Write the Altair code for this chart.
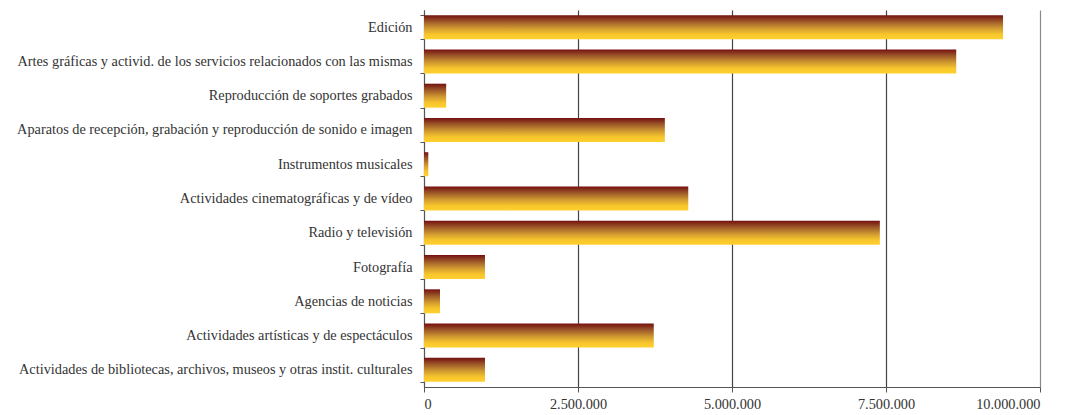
import altair as alt
import pandas as pd

categories = [
    "Edición",
    "Artes gráficas y activid. de los servicios relacionados con las mismas",
    "Reproducción de soportes grabados",
    "Aparatos de recepción, grabación y reproducción de sonido e imagen",
    "Instrumentos musicales",
    "Actividades cinematográficas y de vídeo",
    "Radio y televisión",
    "Fotografía",
    "Agencias de noticias",
    "Actividades artísticas y de espectáculos",
    "Actividades de bibliotecas, archivos, museos y otras instit. culturales",
]
values = [9400000, 8640000, 360000, 3910000, 70000, 4290000, 7400000, 990000, 260000, 3730000, 990000]
tick_values = [0, 2500000, 5000000, 7500000, 10000000]

df = pd.DataFrame({"cat": categories, "val": values})

grad = alt.LinearGradient(
    gradient="linear",
    x1=0, x2=0, y1=0, y2=1,
    stops=[
        alt.GradientStop(color="#741010", offset=0),
        alt.GradientStop(color="#9a5428", offset=0.25),
        alt.GradientStop(color="#d09a30", offset=0.55),
        alt.GradientStop(color="#f8c62c", offset=0.8),
        alt.GradientStop(color="#fed02e", offset=1),
    ],
)

FONT = "Liberation Serif"

chart = (
    alt.Chart(df)
    .mark_bar(color=grad)
    .encode(
        y=alt.Y(
            "cat:N",
            sort=categories,
            title=None,
            scale=alt.Scale(paddingInner=0.3, paddingOuter=0.15),
            axis=alt.Axis(
                tickBand="extent",
                labelFont=FONT,
                labelFontSize=14.3,
                labelColor="#333333",
                labelLimit=600,
                labelPadding=8,
                domainColor="#555555",
                tickColor="#555555",
                tickSize=4,
                minExtent=411,
                maxExtent=411,
                grid=False,
            ),
        ),
        x=alt.X(
            "val:Q",
            title=None,
            scale=alt.Scale(domain=[0, 10000000], nice=False),
            axis=alt.Axis(
                values=tick_values,
                labelExpr="join(split(format(datum.value, ',d'), ','), '.')",
                labelFont=FONT,
                labelFontSize=14.3,
                labelColor="#333333",
                labelPadding=5,
                domainColor="#555555",
                tickColor="#555555",
                tickSize=5,
                grid=True,
                gridColor={
                    "condition": {"test": "datum.value >= 10000000", "value": "#8a8a8a"},
                    "value": "#444444",
                },
                gridWidth=1.2,
            ),
        ),
    )
    .properties(width=616, height=377, padding={"left": 5, "top": -5, "right": 5, "bottom": 0})
    .configure_view(stroke=None)
)

chart.save("out.html", embed_options={"renderer": "svg", "actions": False})
